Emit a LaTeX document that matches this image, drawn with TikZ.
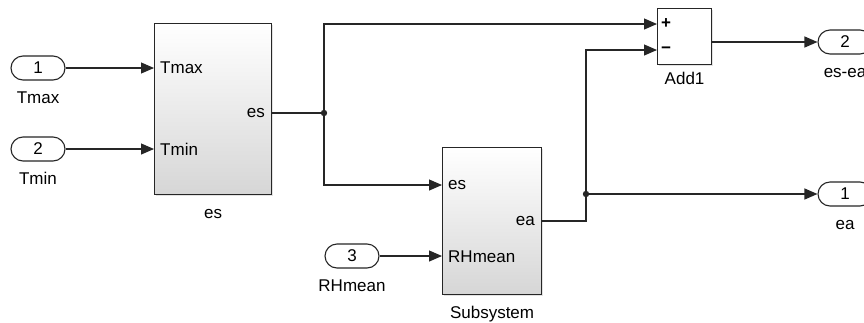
\documentclass[tikz,border=0pt]{standalone}
\usepackage{fontspec}
\setmainfont{Liberation Sans}
\usetikzlibrary{calc, positioning}
\usetikzlibrary{arrows.meta}
\usetikzlibrary{shapes.misc}
\usetikzlibrary{shadows}

\definecolor{wirecol}{HTML}{262626}
\definecolor{blkbot}{HTML}{D6D6D6}

\tikzset{
  port/.style={draw=wirecol, line width=1.1pt, rounded rectangle, fill=white,
    minimum width=54, minimum height=24, inner sep=0pt},
  block/.style={draw=wirecol, line width=1.1pt, top color=white, bottom color=blkbot,
    drop shadow={shadow xshift=1.5pt, shadow yshift=-1.5pt, fill=gray!45},
    inner sep=0pt, anchor=north west},
  sumblock/.style={block, top color=white, bottom color=white},
  inlbl/.style={anchor=west, inner sep=0pt},
  outlbl/.style={anchor=east, inner sep=0pt},
  portlbl/.style={anchor=base, inner sep=0pt},
  blklbl/.style={anchor=base, inner sep=0pt},
  wire/.style={draw=wirecol, line width=1.1pt},
  sig/.style={wire, -{Triangle[length=13pt, width=11pt]}},
  dot/.style={fill=wirecol}
}

\begin{document}
\begin{tikzpicture}[x=1pt, y=-1pt, font=\fontsize{17}{20}\selectfont]
\useasboundingbox[fill=white] (0,0) rectangle (864,322);

% blocks
\node[block, minimum width=117, minimum height=171] (es) at (154,23) {};
\node[block, minimum width=99, minimum height=147] (sub) at (442,147) {};
\node[sumblock, minimum width=54, minimum height=56] (add) at (657,8) {};

\node[blklbl] (eslbl) at ([yshift=-23pt]es.south) {es};
\node[blklbl] (sublbl) at ([yshift=-23pt]sub.south) {Subsystem};
\node[blklbl] (addlbl) at ([yshift=-19pt]add.south) {Add1};

% port names inside the blocks
\node[inlbl] (esTmax) at (160,68) {Tmax};
\node[inlbl] (esTmin) at (160,149) {Tmin};
\node[outlbl] (eses) at (265,113) {es};
\node[inlbl] (subes) at (448,185) {es};
\node[inlbl] (subRH) at (448,257) {RHmean};
\node[outlbl] (subea) at (535,221) {ea};
\node[inlbl, font=\fontsize{17}{20}\selectfont\bfseries] (addp) at (661,24) {+};
\node[inlbl, font=\fontsize{17}{20}\selectfont\bfseries] (addm) at (661,50) {−};

% in- and outports
\node[port] (in1) at (38,68) {1};
\node[port] (in2) at (38,149) {2};
\node[port] (in3) at (352,256) {3};
\node[port] (out2) at (845,42) {2};
\node[port] (out1) at (845,194) {1};

\node[portlbl] (in1lbl) at ([yshift=-35pt]in1.center) {Tmax};
\node[portlbl] (in2lbl) at ([yshift=-35pt]in2.center) {Tmin};
\node[portlbl] (in3lbl) at ([yshift=-35pt]in3.center) {RHmean};
\node[portlbl] (out2lbl) at ([yshift=-35pt]out2.center) {es-ea};
\node[portlbl] (out1lbl) at ([yshift=-35pt]out1.center) {ea};

% branch points
\coordinate (j1) at (324,113);
\coordinate (j2) at (586,194);

% signals
\draw[sig] (in1.east) -- (in1.east -| es.west);
\draw[sig] (in2.east) -- (in2.east -| es.west);
\draw[wire] (es.east |- j1) -- (j1);
\draw[sig] (j1) |- (add.west |- addp);
\draw[sig] (j1) |- (sub.west |- subes);
\draw[sig] (in3.east) -- (in3.east -| sub.west);
\draw[wire] (sub.east |- subea) -| (j2);
\draw[sig] (j2) |- (add.west |- addm);
\draw[sig] (j2) -- (j2 -| out1.west);
\draw[sig] (add.east |- out2) -- (out2.west);

\fill[dot] (j1) circle (3.2);
\fill[dot] (j2) circle (3.2);
\end{tikzpicture}
\end{document}
